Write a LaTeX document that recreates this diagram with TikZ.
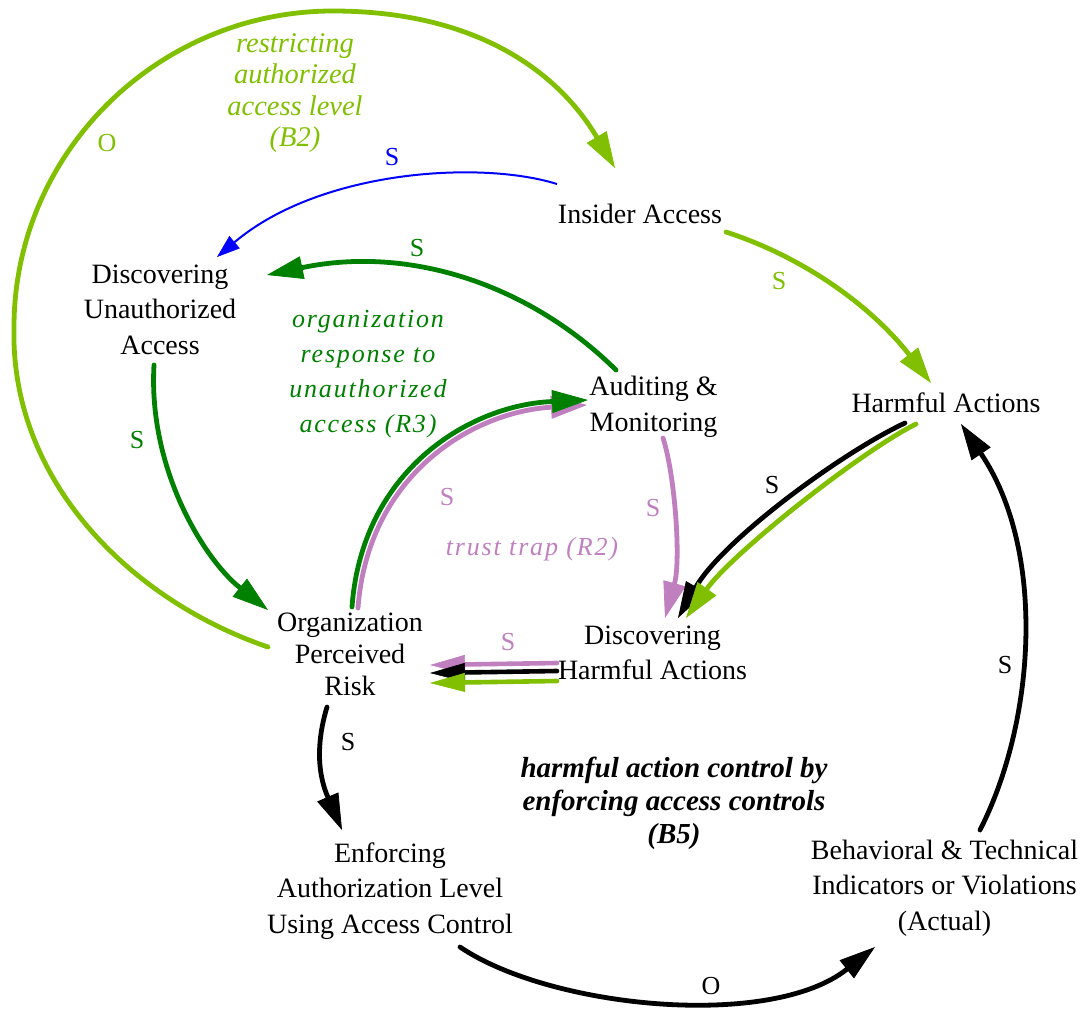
\documentclass[tikz,border=0pt]{standalone}
\usepackage{fontspec}
\setmainfont{Liberation Serif}
\newfontfamily\spacedserif[LetterSpace=7]{Liberation Serif}
\usetikzlibrary{arrows.meta}
\definecolor{limegr}{RGB}{128,192,0}
\definecolor{darkgr}{RGB}{0,128,0}
\definecolor{orchid}{RGB}{192,128,192}
\definecolor{linkblue}{RGB}{0,0,255}
\begin{document}
\begin{tikzpicture}[x=1pt,y=-1pt,
  var/.style={align=center, inner sep=0pt, font=\fontsize{28}{35.5}\selectfont},
  pol/.style={inner sep=0pt, font=\fontsize{26}{30}\selectfont},
  link/.style={line width=4.8pt, line cap=round, -{Triangle[length=36pt,width=23pt,line width=0.8pt]}},
  thinlink/.style={line width=2pt, -{Triangle[length=23pt,width=16pt,line width=0.5pt]}},
  pairlink/.style={line width=4.6pt, line cap=round, -{Triangle[length=35pt,width=19pt,line width=0.6pt]}},
]
\useasboundingbox (0,0) rectangle (1090,1010);

% variables
\node[var] (ins)  at (640,213.5) {Insider Access};
\node[var] (dua)  at (160,309.5) {Discovering\\Unauthorized\\Access};
\node[var] (aud)  at (653.5,407) {Auditing \&\\Monitoring};
\node[var] (harm) at (946,402.5) {Harmful Actions};
\node[var, font=\fontsize{28}{32}\selectfont] (opr) at (350,654.5) {Organization\\Perceived\\Risk};
\node[var] (dha)  at (652.5,653) {Discovering\\Harmful Actions};
\node[var] (enf)  at (390,891) {Enforcing\\Authorization Level\\Using Access Control};
\node[var] (beh)  at (944.5,888) {Behavioral \& Technical\\Indicators or Violations\\(Actual)};

% loop names
\node[align=center, inner sep=0pt, text=limegr, font=\fontsize{28.5}{31.5}\selectfont\itshape]
  (loopB2) at (295,93) {restricting\\authorized\\access level\\(B2)};
\node[align=center, inner sep=0pt, text=darkgr, font=\fontsize{26}{35}\selectfont\spacedserif\itshape]
  (loopR3) at (368,374) {organization\\response to\\unauthorized\\access (R3)};
\node[inner sep=0pt, text=orchid, font=\fontsize{26}{30}\selectfont\spacedserif\itshape]
  (loopR2) at (532,549) {trust trap (R2)};
\node[align=center, inner sep=0pt, font=\fontsize{29}{33}\selectfont\bfseries\itshape]
  (loopB5) at (674,803) {harmful action control by\\enforcing access controls\\(B5)};

% restricting authorized access level
\draw[limegr, link] ([shift={(-82,-7.5)}]opr.center)
  .. controls (130,600) and (10,480) .. (14,327)
  .. controls (14,153) and (158,11) .. (333,11)
  .. controls (480,11) and (560,75) .. ([shift={(-25,-45.5)}]ins.center);
\node[pol, text=limegr] (pO1) at (107,143) {O};

% insider access -> discovering unauthorized access
\draw[linkblue, thinlink] ([shift={(-83,-29.5)}]ins.center)
  .. controls (480,160) and (320,170) .. ([shift={(57,-52.5)}]dua.center);
\node[pol, text=linkblue] (pS1) at (392,157) {S};

% insider access -> harmful actions
\draw[limegr, link] ([shift={(86,18.5)}]ins.center)
  .. controls (812,260) and (877,313) .. ([shift={(-15,-19.5)}]harm.center);
\node[pol, text=limegr] (pS2) at (779,281) {S};

% auditing -> discovering unauthorized access
\draw[darkgr, link] ([shift={(-37.5,-37)}]aud.center)
  .. controls (530,285) and (410,245) .. ([shift={(107,-34.5)}]dua.center);
\node[pol, text=darkgr] (pS3) at (417,248) {S};

% discovering unauthorized access -> perceived risk
\draw[darkgr, link] ([shift={(-6,55.5)}]dua.center)
  .. controls (148,470) and (205,560) .. ([shift={(-82,-44.5)}]opr.center);
\node[pol, text=darkgr] (pS4) at (137,440) {S};

% perceived risk -> auditing (trust trap and response loops)
\draw[orchid, link] ([shift={(8,-46.5)}]opr.center)
  .. controls (368,475) and (472,412) .. ([shift={(-66.5,-2)}]aud.center);
\draw[darkgr, link] ([shift={(2,-47.5)}]opr.center)
  .. controls (362,470) and (470,405) .. ([shift={(-65.5,-7)}]aud.center);
\node[pol, text=orchid] (pS5) at (447,497) {S};

% auditing -> discovering harmful actions
\draw[orchid, link] ([shift={(9.5,31)}]aud.center)
  .. controls (675,475) and (681,560) .. ([shift={(12.5,-35)}]dha.center);
\node[pol, text=orchid] (pS6) at (653,508) {S};

% harmful actions -> discovering harmful actions
\draw[black, link] ([shift={(-41,20.5)}]harm.center)
  .. controls (841,453) and (723,540) .. ([shift={(25.5,-35)}]dha.center);
\draw[limegr, link] ([shift={(-30,21.5)}]harm.center)
  .. controls (860,452) and (732.5,553) .. ([shift={(33.5,-35)}]dha.center);
\node[pol] (pS7) at (772,485) {S};

% discovering harmful actions -> perceived risk
\draw[orchid, pairlink] ([shift={(-95.5,10)}]dha.center) -- ([shift={(80,10.5)}]opr.center);
\draw[black, pairlink] ([shift={(-95.5,18)}]dha.center) -- ([shift={(80,18.5)}]opr.center);
\draw[limegr, pairlink] ([shift={(-95.5,28)}]dha.center) -- ([shift={(80,28.5)}]opr.center);
\node[pol, text=orchid] (pS8) at (508,642) {S};

% perceived risk -> enforcing access control
\draw[black, link] ([shift={(-23,52.5)}]opr.center)
  .. controls (320,730) and (314,765) .. ([shift={(-48,-61)}]enf.center);
\node[pol] (pS9) at (348,742) {S};

% enforcing access control -> indicators
\draw[black, link] ([shift={(70,56)}]enf.center)
  .. controls (550,1008) and (770,1030) .. ([shift={(-69.5,59)}]beh.center);
\node[pol] (pO2) at (711,986) {O};

% indicators -> harmful actions
\draw[black, link] ([shift={(35.5,-58)}]beh.center)
  .. controls (1036,720) and (1046,550) .. ([shift={(15,21.5)}]harm.center);
\node[pol] (pS10) at (1005,665) {S};
\end{tikzpicture}
\end{document}
